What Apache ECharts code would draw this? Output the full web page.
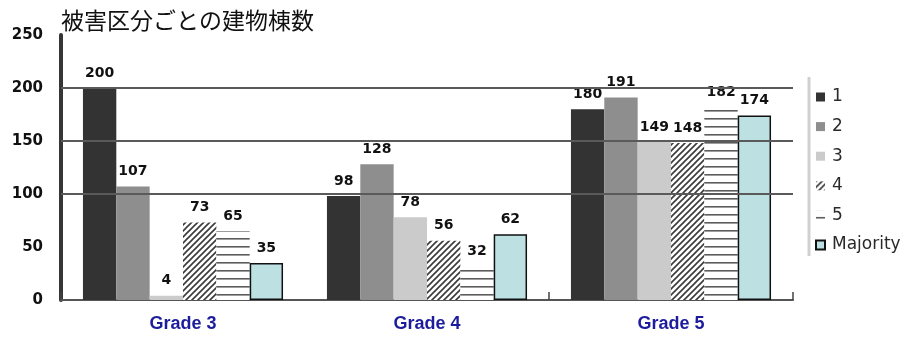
<!DOCTYPE html>
<html>
<head>
<meta charset="utf-8">
<script src="https://cdn.jsdelivr.net/npm/echarts@6/dist/echarts.min.js"></script>
<style>
  html, body { margin: 0; padding: 0; background: #fff; }
  #chart { width: 906px; height: 338px; }
</style>
</head>
<body>
<div id="chart"></div>
<script>
// Building counts per damage class, grouped by grade
const categories = ['Grade 3', 'Grade 4', 'Grade 5'];
const seriesNames = ['1', '2', '3', '4', '5', 'Majority'];
const class1 = [200, 98, 180];
const class2 = [107, 128, 191];
const class3 = [4, 78, 149];
const class4 = [73, 56, 148];
const class5 = [65, 32, 182];
const majority = [35, 62, 174];
const gridValues = [100, 150, 200];
const yMin = 0, yMax = 250, yStep = 50;

// Fill patterns for the hatched classes
function diagonalPattern() {
  const c = document.createElement('canvas');
  c.width = 6; c.height = 6;
  const g = c.getContext('2d');
  g.fillStyle = '#ffffff';
  g.fillRect(0, 0, 6, 6);
  g.strokeStyle = '#3a3a3a';
  g.lineWidth = 1.6;
  g.beginPath();
  g.moveTo(-1, 7); g.lineTo(7, -1);
  g.moveTo(-4, 4); g.lineTo(4, -4);
  g.moveTo(2, 10); g.lineTo(10, 2);
  g.stroke();
  return c;
}
function stripePattern() {
  const c = document.createElement('canvas');
  c.width = 8; c.height = 8;
  const g = c.getContext('2d');
  g.fillStyle = '#ffffff';
  g.fillRect(0, 0, 8, 8);
  g.fillStyle = '#5c5c5c';
  g.fillRect(0, 6, 8, 1.6);
  return c;
}

const labelStyle = {
  show: true,
  position: 'top',
  distance: 8,
  fontFamily: 'DejaVu Sans',
  fontWeight: 'bold',
  fontSize: 14,
  color: '#111'
};

function barSeries(name, data, itemStyle) {
  return {
    name: name,
    type: 'bar',
    data: data,
    barGap: '0%',
    barCategoryGap: '18%',
    itemStyle: itemStyle,
    label: labelStyle,
    z: 2
  };
}

const chart = echarts.init(document.getElementById('chart'));
chart.setOption({
  animation: false,
  backgroundColor: '#ffffff',
  title: {
    text: '被害区分ごとの建物棟数',
    left: 56,
    top: 4,
    textStyle: {
      fontFamily: 'Noto Sans CJK JP',
      fontWeight: 'normal',
      fontSize: 23,
      color: '#111'
    }
  },
  legend: {
    data: seriesNames,
    orient: 'vertical',
    left: 810,
    top: 83,
    itemWidth: 9,
    itemHeight: 9,
    itemGap: 11.6,
    icon: 'rect',
    textStyle: {
      fontFamily: 'DejaVu Sans',
      fontSize: 17,
      lineHeight: 18,
      color: '#2a2a2a',
      padding: [0, 0, 0, 2]
    }
  },
  grid: {
    left: 61,
    right: 113,
    top: 35,
    bottom: 38,
    containLabel: false
  },
  xAxis: {
    type: 'category',
    data: categories,
    axisLine: { lineStyle: { color: '#555', width: 2 } },
    axisTick: {
      show: true,
      inside: true,
      length: 8,
      interval: (i) => i !== 1,
      lineStyle: { color: '#444', width: 1.5 }
    },
    axisLabel: {
      margin: 15,
      fontFamily: 'Liberation Sans',
      fontWeight: 'bold',
      fontSize: 18,
      color: '#1c1c9c'
    }
  },
  yAxis: {
    type: 'value',
    min: yMin,
    max: yMax,
    interval: yStep,
    axisLine: { show: true, lineStyle: { color: '#363636', width: 4 } },
    axisTick: { show: false },
    splitLine: { show: false },
    axisLabel: {
      margin: 18,
      fontFamily: 'DejaVu Sans',
      fontWeight: 'bold',
      fontSize: 15,
      color: '#111'
    }
  },
  graphic: [{
    type: 'line',
    shape: { x1: 809, y1: 77, x2: 809, y2: 256 },
    style: { stroke: '#d0d0d0', lineWidth: 3 }
  }],
  series: [
    {
      name: 'grid',
      type: 'line',
      data: [],
      z: 0,
      silent: true,
      markLine: {
        silent: true,
        symbol: ['none', 'none'],
        label: { show: false },
        lineStyle: { color: '#5a5a5a', width: 2, type: 'solid' },
        data: gridValues.map(v => ({ yAxis: v }))
      }
    },
    barSeries('1', class1, { color: '#333333' }),
    barSeries('2', class2, { color: '#8e8e8e' }),
    barSeries('3', class3, { color: '#cbcbcb' }),
    barSeries('4', class4, { color: { image: diagonalPattern(), repeat: 'repeat' } }),
    barSeries('5', class5, { color: { image: stripePattern(), repeat: 'repeat' } }),
    barSeries('Majority', majority, { color: '#bde0e3', borderColor: '#111', borderWidth: 1.5 })
  ]
});
</script>
</body>
</html>
